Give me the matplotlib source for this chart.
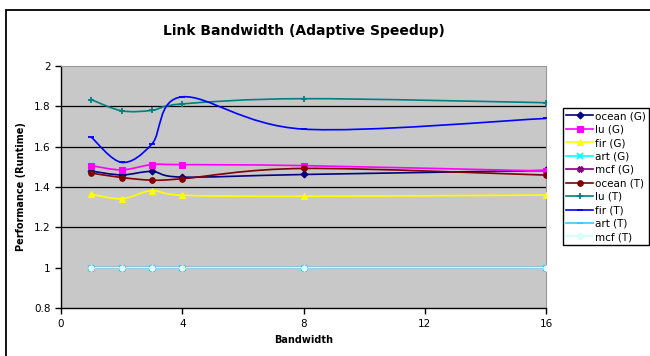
import numpy as np
import matplotlib.pyplot as plt
from matplotlib.path import Path
from matplotlib.patches import PathPatch, Rectangle
from matplotlib.lines import Line2D

bandwidth = [1, 2, 3, 4, 8, 16]

ocean_g = [1.479, 1.460, 1.477, 1.449, 1.462, 1.482]
lu_g = [1.506, 1.485, 1.511, 1.511, 1.506, 1.479]
fir_g = [1.364, 1.342, 1.382, 1.359, 1.354, 1.360]
art_g = [1.0, 1.0, 1.0, 1.0, 1.0, 1.0]
mcf_g = [1.0, 1.0, 1.0, 1.0, 1.0, 1.0]
ocean_t = [1.469, 1.447, 1.434, 1.441, 1.492, 1.459]
lu_t = [1.833, 1.778, 1.780, 1.812, 1.838, 1.818]
fir_t = [1.647, 1.522, 1.613, 1.847, 1.687, 1.740]
art_t = [1.0, 1.0, 1.0, 1.0, 1.0, 1.0]
mcf_t = [1.0, 1.0, 1.0, 1.0, 1.0, 1.0]

names = ['ocean (G)', 'lu (G)', 'fir (G)', 'art (G)', 'mcf (G)',
         'ocean (T)', 'lu (T)', 'fir (T)', 'art (T)', 'mcf (T)']
series = [ocean_g, lu_g, fir_g, art_g, mcf_g,
          ocean_t, lu_t, fir_t, art_t, mcf_t]

# colour, marker, marker size, marker face
styles = [
    ('#000080', 'D', 3.5, '#000080'),
    ('#FF00FF', 's', 4.5, '#FF00FF'),
    ('#FFFF00', '^', 5, '#FFFF00'),
    ('#00FFFF', 'x', 4, '#00FFFF'),
    ('#800080', 'X', 4, '#800080'),
    ('#800000', 'o', 4, '#800000'),
    ('#008080', '+', 5, '#008080'),
    ('#0000FF', '_', 4, '#0000FF'),
    ('#33CCFF', '_', 4, '#33CCFF'),
    ('#CCFFFF', 'o', 4, '#E0FFFF'),
]


def smooth_path(xs, ys):
    # excel style smoothed line: bezier with catmull-rom control points
    pts = np.column_stack([xs, ys]).astype(float)
    n = len(pts)
    verts = [pts[0]]
    codes = [Path.MOVETO]
    for i in range(n - 1):
        p0 = pts[max(i - 1, 0)]
        p1 = pts[i]
        p2 = pts[i + 1]
        p3 = pts[min(i + 2, n - 1)]
        c1 = p1 + (p2 - p0) / 6.0
        c2 = p2 - (p3 - p1) / 6.0
        verts += [c1, c2, p2]
        codes += [Path.CURVE4] * 3
    return Path(verts, codes)


fig = plt.figure(figsize=(6.5, 3.56), dpi=100)
fig.patch.set_facecolor('white')

# outer chart border
fig.add_artist(Rectangle((6 / 650, -0.2), 2.0, 1.2 - 10 / 356,
                         transform=fig.transFigure, fill=False,
                         edgecolor='black', lw=1.3))

ax = fig.add_axes([61 / 650, 1 - 308 / 356, 485 / 650, 242 / 356])
ax.set_facecolor('#C8C8C8')

for y in [1.2, 1.4, 1.6, 1.8]:
    ax.axhline(y, color='black', lw=0.9, zorder=1)

handles = []
for name, vals, (col, mk, ms, mf) in zip(names, series, styles):
    patch = PathPatch(smooth_path(bandwidth, vals), fill=False,
                      edgecolor=col, lw=1.2, zorder=2)
    ax.add_patch(patch)
    mew = 1.3 if mk in ('x', '+', '_') else 0.8
    ax.plot(bandwidth, vals, linestyle='none', marker=mk, ms=ms,
            mfc=mf, mec=col, mew=mew, zorder=3)
    handles.append(Line2D([], [], color=col, lw=1.2, marker=mk, ms=ms,
                          mfc=mf, mec=col, mew=mew, label=name))

ax.set_xlim(0, 16)
ax.set_ylim(0.8, 2.0)
ax.set_xticks([0, 4, 8, 12, 16])
ax.set_yticks([0.8, 1.0, 1.2, 1.4, 1.6, 1.8, 2.0])
ax.set_yticklabels(['0.8', '1', '1.2', '1.4', '1.6', '1.8', '2'])
ax.tick_params(axis='both', direction='out', length=4, width=1,
               labelsize=7.5, colors='black')
ax.tick_params(axis='x', pad=4)

ax.spines['left'].set_color('black')
ax.spines['bottom'].set_color('black')
ax.spines['top'].set_color('#999999')
ax.spines['right'].set_color('#999999')
ax.spines['left'].set_linewidth(1)
ax.spines['bottom'].set_linewidth(1)

ax.set_xlabel('Bandwidth', fontsize=7, fontweight='bold', labelpad=4)
ax.set_ylabel('Performance (Runtime)', fontsize=7, fontweight='bold', labelpad=6)

fig.text(304 / 650, 1 - 31 / 356, 'Link Bandwidth (Adaptive Speedup)',
         ha='center', va='center', fontsize=10, fontweight='bold')

leg = fig.legend(handles=handles, loc='upper left',
                 bbox_to_anchor=(563 / 650, 1 - 108 / 356),
                 fontsize=7.5, frameon=True, fancybox=False,
                 edgecolor='black', framealpha=1, handlelength=2.6,
                 handletextpad=0.2, labelspacing=0.33, borderpad=0.3,
                 borderaxespad=0)
leg.get_frame().set_linewidth(1)

plt.savefig('out.png', dpi=100)
